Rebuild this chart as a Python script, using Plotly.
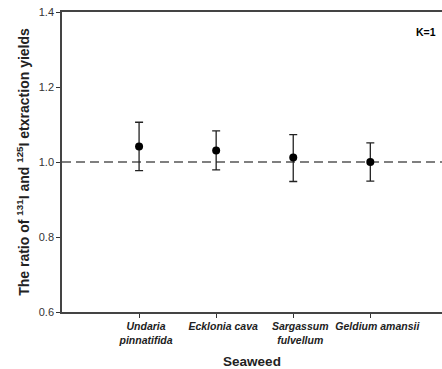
import plotly.graph_objects as go

categories = ["Undaria<br>pinnatifida", "Ecklonia cava", "Sargassum<br>fulvellum", "Geldium amansii"]
positions = [1, 2, 3, 4]
ratio = [1.041, 1.031, 1.012, 1.000]
err_plus = [0.065, 0.052, 0.061, 0.051]
err_minus = [0.064, 0.052, 0.064, 0.051]
ref_value = 1.0
y_ticks = [0.6, 0.8, 1.0, 1.2, 1.4]

FONT = "Arial, Liberation Sans, sans-serif"

fig = go.Figure()
fig.add_trace(go.Scatter(
    x=positions, y=ratio, mode="markers",
    marker=dict(color="black", size=8),
    error_y=dict(type="data", symmetric=False, array=err_plus, arrayminus=err_minus,
                 color="#222", thickness=1.3, width=4),
    showlegend=False,
))

fig.add_shape(type="line", xref="paper", x0=0, x1=1, yref="y", y0=ref_value, y1=ref_value,
              line=dict(color="black", width=1.2, dash="9px,5px"), layer="below")

fig.add_annotation(text="<b>K=1</b>", xref="paper", yref="paper", x=0.99, y=0.932,
                   xanchor="right", yanchor="middle", showarrow=False,
                   font=dict(family=FONT, size=10.5, color="black"))

fig.update_layout(
    width=442, height=369,
    margin=dict(l=62, r=0, t=12, b=57),
    paper_bgcolor="white", plot_bgcolor="white",
    font=dict(family=FONT, color="#222"),
    xaxis=dict(
        range=[0, 4.93], tickmode="array", tickvals=positions,
        ticktext=["<b><i>" + c.replace("<br>", "</i></b><br><b><i>") + "</i></b>" for c in categories],
        ticks="outside", ticklen=4, tickcolor="#333", tickwidth=1.2,
        showline=True, linecolor="#444", linewidth=1.5, mirror=True,
        showgrid=False, zeroline=False, automargin=False,
        tickfont=dict(family=FONT, size=10.5, color="#222"),
        ticklabelshift=7,
        title=dict(text="<b>Seaweed</b>", font=dict(family=FONT, size=13.5, color="#222"), standoff=12),
    ),
    yaxis=dict(
        range=[0.6, 1.4], tickmode="array", tickvals=y_ticks,
        ticktext=[f"{v:.1f}" for v in y_ticks],
        ticks="outside", ticklen=4, tickcolor="#333", tickwidth=1.2,
        showline=True, linecolor="#444", linewidth=1.5, mirror=False,
        showgrid=False, zeroline=False, automargin=False,
        tickfont=dict(family=FONT, size=11, color="#333"),
        title=dict(text="<b>The ratio of <sup>131</sup>I and <sup>125</sup>I etxraction yields</b>",
                   font=dict(family=FONT, size=14, color="#222"), standoff=6),
    ),
)

fig.write_html("out.html", config={"displayModeBar": False},
               post_script="document.body.style.margin='0';document.body.style.overflow='hidden';")
